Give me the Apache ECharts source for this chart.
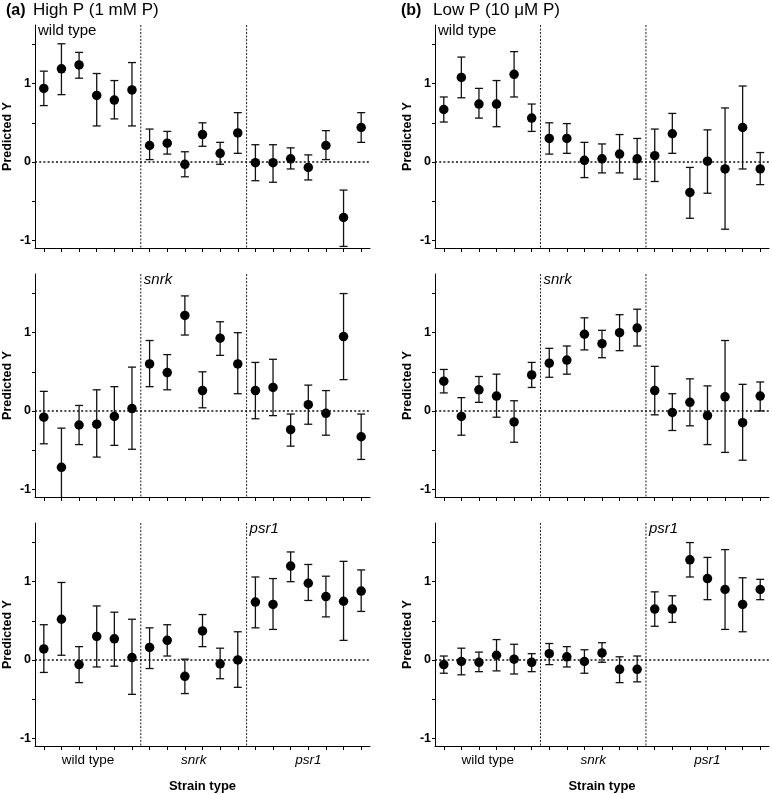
<!DOCTYPE html>
<html><head><meta charset="utf-8">
<script src="https://cdn.jsdelivr.net/npm/echarts@6/dist/echarts.min.js"></script>
<style>html,body{margin:0;padding:0;background:#fff}#c{width:772px;height:794px}</style>
</head><body><div id="c"></div>
<script>
// ---------------- DATA ----------------
const categories = ['wt-1','wt-2','wt-3','wt-4','wt-5','wt-6',
  'snrk-1','snrk-2','snrk-3','snrk-4','snrk-5','snrk-6',
  'psr1-1','psr1-2','psr1-3','psr1-4','psr1-5','psr1-6','psr1-7'];
const groupLabels = ['wild type', 'snrk', 'psr1'];
const groupItalic = [false, true, true];
const groupCenters = [2.5, 8.5, 15];
const groupDividers = [5.5, 11.5];
const panelLabelStarts = [-0.5, 5.5, 11.5];
const yTickLabels = [-1, 0, 1];
const yTicks = [-1, -0.5, 0, 0.5, 1, 1.5];
const columnTags = ['(a)', '(b)'];
const columnTitles = ['High P (1 mM P)', 'Low P (10 \u03bcM P)'];
const yAxisName = 'Predicted Y';
const xAxisName = 'Strain type';

// High P, wild type row
const hpWtMean = [0.94,1.19,1.24,0.85,0.79,0.92, 0.21,0.24,-0.03,0.35,0.11,0.37, -0.01,-0.01,0.04,-0.07,0.21,-0.71,0.44];
const hpWtLo   = [0.72,0.86,1.07,0.46,0.55,0.46, 0.03,0.10,-0.19,0.20,-0.03,0.11, -0.24,-0.26,-0.09,-0.23,0.03,-1.08,0.25];
const hpWtHi   = [1.16,1.51,1.40,1.13,1.04,1.27, 0.42,0.39,0.13,0.50,0.25,0.63, 0.22,0.22,0.18,0.09,0.40,-0.36,0.63];
// Low P, wild type row
const lpWtMean = [0.67,1.08,0.74,0.74,1.12,0.56, 0.30,0.30,0.02,0.04,0.10,0.04, 0.08,0.36,-0.39,0.01,-0.09,0.44,-0.09];
const lpWtLo   = [0.51,0.82,0.56,0.45,0.83,0.39, 0.10,0.11,-0.20,-0.14,-0.14,-0.22, -0.25,0.11,-0.72,-0.40,-0.86,-0.09,-0.29];
const lpWtHi   = [0.83,1.34,0.94,1.04,1.41,0.74, 0.50,0.49,0.25,0.23,0.35,0.30, 0.42,0.62,-0.07,0.41,0.69,0.97,0.12];
// High P, snrk row
const hpSnMean = [-0.08,-0.72,-0.18,-0.17,-0.07,0.03, 0.60,0.49,1.22,0.26,0.93,0.60, 0.26,0.30,-0.24,0.08,-0.03,0.95,-0.33];
const hpSnLo   = [-0.42,-1.22,-0.43,-0.59,-0.44,-0.49, 0.31,0.27,0.97,0.04,0.71,0.22, -0.10,-0.06,-0.45,-0.17,-0.31,0.40,-0.62];
const hpSnHi   = [0.25,-0.22,0.07,0.27,0.31,0.56, 0.90,0.72,1.47,0.50,1.14,1.00, 0.62,0.66,-0.04,0.33,0.26,1.50,-0.04];
// Low P, snrk row
const lpSnMean = [0.38,-0.07,0.27,0.19,-0.14,0.46, 0.61,0.65,0.98,0.86,1.00,1.06, 0.26,-0.02,0.11,-0.06,0.18,-0.15,0.19];
const lpSnLo   = [0.23,-0.31,0.11,-0.08,-0.40,0.30, 0.43,0.47,0.78,0.68,0.77,0.83, -0.05,-0.25,-0.19,-0.43,-0.53,-0.63,0.00];
const lpSnHi   = [0.53,0.17,0.44,0.47,0.13,0.62, 0.80,0.83,1.19,1.03,1.23,1.30, 0.57,0.22,0.41,0.32,0.90,0.34,0.37];
// High P, psr1 row
const hpPsMean = [0.14,0.52,-0.06,0.30,0.27,0.03, 0.16,0.25,-0.21,0.37,-0.05,0.00, 0.74,0.71,1.20,0.98,0.81,0.75,0.88];
const hpPsLo   = [-0.16,0.06,-0.29,-0.09,-0.08,-0.44, -0.11,0.05,-0.43,0.17,-0.24,-0.35, 0.41,0.39,1.00,0.76,0.55,0.25,0.62];
const hpPsHi   = [0.45,0.99,0.17,0.69,0.61,0.52, 0.41,0.45,0.01,0.58,0.15,0.36, 1.06,1.04,1.38,1.22,1.07,1.26,1.15];
// Low P, psr1 row
const lpPsMean = [-0.06,-0.02,-0.03,0.06,0.01,-0.03, 0.08,0.04,-0.02,0.09,-0.12,-0.12, 0.65,0.65,1.28,1.04,0.90,0.71,0.90];
const lpPsLo   = [-0.17,-0.19,-0.15,-0.14,-0.18,-0.15, -0.06,-0.09,-0.17,-0.03,-0.29,-0.28, 0.43,0.48,1.06,0.77,0.39,0.36,0.77];
const lpPsHi   = [0.05,0.15,0.10,0.26,0.20,0.08, 0.21,0.17,0.13,0.22,0.04,0.05, 0.87,0.82,1.50,1.31,1.41,1.05,1.03];

// ---------------- LAYOUT ----------------
const FONT = '"Liberation Sans", Arial, Helvetica, sans-serif';
const Y_MIN = -1.1, Y_MAX = 1.75;
const colLeft = [34, 435];
const colWidth = [336, 334];
const rowTop = [25, 274, 523];
const rowHeight = 223;

const panels = [
  {col:0,row:0,mean:hpWtMean,lo:hpWtLo,hi:hpWtHi,label:0},
  {col:1,row:0,mean:lpWtMean,lo:lpWtLo,hi:lpWtHi,label:0},
  {col:0,row:1,mean:hpSnMean,lo:hpSnLo,hi:hpSnHi,label:1},
  {col:1,row:1,mean:lpSnMean,lo:lpSnLo,hi:lpSnHi,label:1},
  {col:0,row:2,mean:hpPsMean,lo:hpPsLo,hi:hpPsHi,label:2},
  {col:1,row:2,mean:lpPsMean,lo:lpPsLo,hi:lpPsHi,label:2}
];

const grids = [], xAxes = [], yAxes = [], series = [];

function renderErr(params, api) {
  const x = api.value(0), lo = api.value(1), hi = api.value(2);
  const cs = params.coordSys;
  const top = cs.y, bottom = cs.y + cs.height;
  const pHi = api.coord([x, hi]);
  const pLo = api.coord([x, lo]);
  const yHi = Math.max(pHi[1], top), yLo = Math.min(pLo[1], bottom);
  const st = {stroke:'#111', lineWidth:1.3};
  const cw = 4;
  const ch = [{type:'line', shape:{x1:pHi[0], y1:yHi, x2:pHi[0], y2:yLo}, style:st}];
  if (pHi[1] >= top) ch.push({type:'line', shape:{x1:pHi[0]-cw, y1:yHi, x2:pHi[0]+cw, y2:yHi}, style:st});
  if (pLo[1] <= bottom) ch.push({type:'line', shape:{x1:pLo[0]-cw, y1:yLo, x2:pLo[0]+cw, y2:yLo}, style:st});
  return {type:'group', children:ch};
}
function renderDivider(params, api) {
  const cs = params.coordSys;
  const p = api.coord([api.value(0), 0]);
  return {type:'line', shape:{x1:p[0], y1:cs.y, x2:p[0], y2:cs.y + cs.height},
    style:{stroke:'#222', lineWidth:1, lineDash:[2,1.5]}};
}
function renderPanelLabel(params, api) {
  const p = api.coord([api.value(0), Y_MAX]);
  const idx = api.value(1);
  return {type:'text', x:p[0] + 3, y:p[1] + 6,
    style:{text:groupLabels[idx], fontSize:15, fontFamily:FONT,
      fontStyle: groupItalic[idx] ? 'italic' : 'normal', fill:'#000',
      verticalAlign:'middle', align:'left'}};
}

panels.forEach((p, k) => {
  const bottomRow = p.row === 2;
  grids.push({left:colLeft[p.col], top:rowTop[p.row], width:colWidth[p.col], height:rowHeight, containLabel:false});
  xAxes.push({
    gridIndex:k, type:'category', data:categories, boundaryGap:true,
    axisLine:{onZero:false, lineStyle:{color:'#000', width:1}},
    axisTick:{show:true, alignWithLabel:true, interval:0, length:4, lineStyle:{color:'#000', width:1}},
    axisLabel:{show:false}, splitLine:{show:false},
    name: bottomRow ? xAxisName : '', nameLocation:'middle', nameGap:34,
    nameTextStyle:{fontFamily:FONT, fontWeight:'bold', fontSize:13, color:'#000'}
  });
  xAxes.push({
    gridIndex:k, type:'value', min:-0.5, max:18.5, position:'bottom',
    axisLine:{show:false, onZero:false}, axisTick:{show:false}, splitLine:{show:false},
    axisLabel:{show:bottomRow, customValues:groupCenters, margin:7,
      fontFamily:FONT, fontSize:13.5, color:'#000',
      formatter:(v) => {
        let i = 0;
        groupCenters.forEach((c, j) => { if (Math.abs(c - v) < 1e-6) i = j; });
        return groupItalic[i] ? '{i|' + groupLabels[i] + '}' : groupLabels[i];
      },
      rich:{i:{fontStyle:'italic', fontFamily:FONT, fontSize:13.5, color:'#000'}}
    }
  });
  yAxes.push({
    gridIndex:k, type:'value', min:Y_MIN, max:Y_MAX,
    axisLine:{show:true, onZero:false, lineStyle:{color:'#000', width:1}},
    axisTick:{show:true, customValues:yTicks, length:3, lineStyle:{color:'#000', width:1}},
    axisLabel:{customValues:yTickLabels, margin:4, fontFamily:FONT, fontWeight:700, fontSize:12.5, color:'#000'},
    splitLine:{show:false},
    name:yAxisName, nameLocation:'middle', nameGap:21, nameRotate:90,
    nameTextStyle:{fontFamily:FONT, fontWeight:700, fontSize:12.5, color:'#000'}
  });
  series.push({
    type:'custom', xAxisIndex:2*k, yAxisIndex:k, z:2,
    data:p.mean.map((m, i) => [i, p.lo[i], p.hi[i]]),
    encode:{x:0, y:[1,2]}, renderItem:renderErr, silent:true
  });
  series.push({
    type:'scatter', xAxisIndex:2*k, yAxisIndex:k, z:3,
    data:p.mean.map((m, i) => [i, m]),
    symbol:'circle', symbolSize:9.5, itemStyle:{color:'#000', opacity:1}, silent:true,
    markLine:{silent:true, symbol:['none','none'], label:{show:false},
      lineStyle:{type:[2,2.2], width:1.6, color:'#111', opacity:1},
      data:[{yAxis:0}]}
  });
  series.push({
    type:'custom', xAxisIndex:2*k+1, yAxisIndex:k, z:1,
    data:groupDividers.map(v => [v, 0]), encode:{x:0, y:1},
    renderItem:renderDivider, silent:true
  });
  series.push({
    type:'custom', xAxisIndex:2*k+1, yAxisIndex:k, z:4,
    data:[[panelLabelStarts[p.label], p.label]], encode:{x:0},
    renderItem:renderPanelLabel, silent:true
  });
});

const graphic = [];
[0,1].forEach(c => {
  const x0 = c === 0 ? 6 : 401;
  const x1 = c === 0 ? 33 : 433;
  graphic.push({type:'text', left:x0, top:3, style:{text:columnTags[c], fontFamily:FONT, fontWeight:'bold', fontSize:16, fill:'#000'}});
  graphic.push({type:'text', left:x1, top:2, style:{text:columnTitles[c], fontFamily:FONT, fontSize:17, fill:'#000'}});
});

const chart = echarts.init(document.getElementById('c'), null, {renderer:'canvas'});
chart.setOption({
  animation:false, backgroundColor:'#fff',
  grid:grids, xAxis:xAxes, yAxis:yAxes, series:series, graphic:graphic
});
</script></body></html>
